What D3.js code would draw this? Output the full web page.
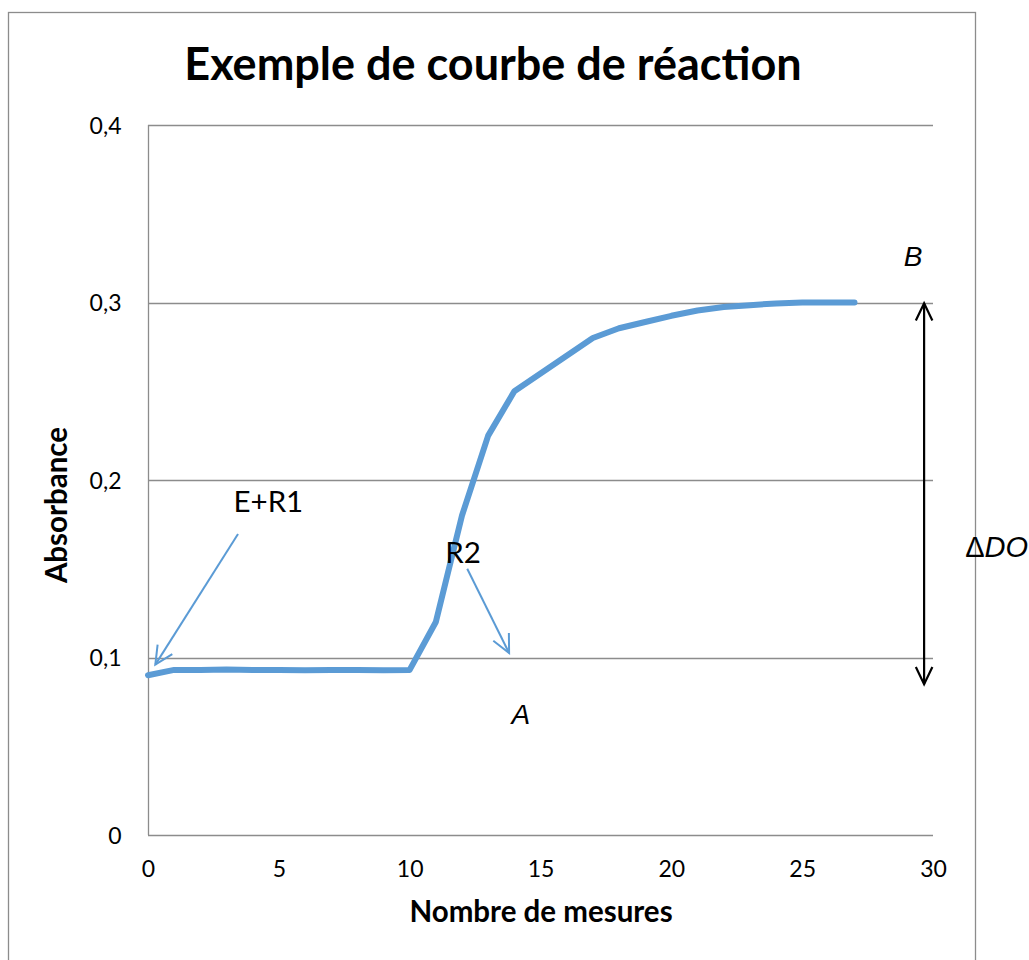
<!DOCTYPE html>
<html><head><meta charset="utf-8">
<script src="https://cdn.jsdelivr.net/npm/d3@7"></script>
<style>body{margin:0;background:#fff}svg{display:block}</style>
</head><body>
<svg id="c" width="1029" height="960"></svg>
<script>
const xValues = [0,1,2,3,4,5,6,7,8,9,10,11,12,13,14,15,16,17,18,19,20,21,22,23,24,25,26,27];
const absorbance = [0.090,0.093,0.093,0.0932,0.093,0.093,0.0928,0.093,0.093,0.0928,0.093,0.120,0.180,0.225,0.250,0.260,0.270,0.280,0.2855,0.289,0.2925,0.2955,0.2975,0.2985,0.2995,0.300,0.300,0.300];
const xTicks = [0,5,10,15,20,25,30];
const yTicks = [0,0.1,0.2,0.3,0.4];
const title = "Exemple de courbe de réaction";
const xTitle = "Nombre de mesures";
const yTitle = "Absorbance";
// annotations in data units
const annotations = [
  {text:"E+R1", x:4.6, y:0.182, from:[3.44,0.1696], to:[0.28,0.096]},
  {text:"R2", x:12.04, y:0.153, from:[12.2,0.150], to:[13.8,0.1025]}
];
const italicLabels = [{text:"B", x:29.24, y:0.3206},{text:"A", x:14.25, y:0.0625}];
const deltaArrow = {x:29.66, y1:0.2995, y2:0.085};

const svg = d3.select("#c");
const font = "Lato, 'Open Sans', sans-serif";
const m = {left:148, right:933, top:125, bottom:835};
const x = d3.scaleLinear().domain([0,30]).range([m.left, m.right]);
const y = d3.scaleLinear().domain([0,0.4]).range([m.bottom, m.top]);

// outer frame
svg.append("rect").attr("x",8.5).attr("y",12.5).attr("width",967).attr("height",960)
  .attr("fill","none").attr("stroke","#8c8c8c").attr("stroke-width",1.3);

// gridlines
svg.append("g").selectAll("line").data(yTicks.filter(d=>d>0)).join("line")
  .attr("x1",m.left).attr("x2",m.right).attr("y1",d=>Math.round(y(d))+0.5).attr("y2",d=>Math.round(y(d))+0.5)
  .attr("stroke","#8c8c8c").attr("stroke-width",1.3);

// axes
const fmt = d => d===0 ? "0" : String(d).replace(".", ",");
const yAxis = svg.append("g").attr("transform",`translate(${m.left+0.5},0)`)
  .call(d3.axisLeft(y).tickValues(yTicks).tickSize(0).tickPadding(27).tickFormat(fmt));
const xAxis = svg.append("g").attr("transform",`translate(0,${m.bottom+0.5})`)
  .call(d3.axisBottom(x).tickValues(xTicks).tickSize(0).tickPadding(25).tickFormat(d=>d));
[yAxis,xAxis].forEach(a=>{
  a.select(".domain").attr("stroke","#8c8c8c").attr("stroke-width",1.3);
  a.selectAll("text").attr("font-family",font).attr("font-size",23).attr("fill","#000");
});
xAxis.select(".domain").attr("d",`M${m.left},0H${m.right}`);
yAxis.select(".domain").attr("d",`M0,${m.top}V${m.bottom}`);
yAxis.selectAll("text").attr("dy","0.35em");

// line
svg.append("path").datum(xValues.map((d,i)=>[d,absorbance[i]]))
  .attr("d", d3.line().x(d=>x(d[0])).y(d=>y(d[1])))
  .attr("fill","none").attr("stroke","#5B9BD5").attr("stroke-width",6)
  .attr("stroke-linejoin","round").attr("stroke-linecap","round");

// titles
svg.append("text").attr("x",493).attr("y",80).attr("text-anchor","middle")
  .attr("font-family",font).attr("font-weight","bold").attr("font-size",45).text(title);
svg.append("text").attr("x",541).attr("y",922).attr("text-anchor","middle")
  .attr("font-family",font).attr("font-weight","bold").attr("font-size",29.5).text(xTitle);
svg.append("text").attr("transform","translate(67,505) rotate(-90)").attr("text-anchor","middle")
  .attr("font-family",font).attr("font-weight","bold").attr("font-size",29.5).text(yTitle);

// arrow helper
function arrow(p0,p1,color,w,head,both){
  const g = svg.append("g").attr("stroke",color).attr("stroke-width",w).attr("fill","none");
  g.append("line").attr("x1",p0[0]).attr("y1",p0[1]).attr("x2",p1[0]).attr("y2",p1[1]);
  const drawHead=(a,b)=>{
    const ang=Math.atan2(b[1]-a[1],b[0]-a[0]);
    const s=0.45;
    const l=[b[0]-head*Math.cos(ang-s), b[1]-head*Math.sin(ang-s)];
    const r=[b[0]-head*Math.cos(ang+s), b[1]-head*Math.sin(ang+s)];
    g.append("path").attr("d",`M${l[0]},${l[1]}L${b[0]},${b[1]}L${r[0]},${r[1]}`);
  };
  drawHead(p0,p1);
  if(both) drawHead(p1,p0);
}
annotations.forEach(a=>{
  svg.append("text").attr("x",x(a.x)).attr("y",y(a.y)).attr("text-anchor","middle")
    .attr("font-family",font).attr("font-size",29.5).text(a.text);
  arrow([x(a.from[0]),y(a.from[1])],[x(a.to[0]),y(a.to[1])],"#5B9BD5",2,20,false);
});
arrow([x(deltaArrow.x),y(deltaArrow.y1)],[x(deltaArrow.x),y(deltaArrow.y2)],"#000",2.2,19,true);

italicLabels.forEach(l=>{
  svg.append("text").attr("x",x(l.x)).attr("y",y(l.y)).attr("text-anchor","middle")
    .attr("font-family","'Liberation Sans', Arial, sans-serif").attr("font-style","italic").attr("font-size",28).text(l.text);
});
const d = svg.append("text").attr("x",1028).attr("y",557).attr("text-anchor","end")
  .attr("font-family","'Liberation Sans', Arial, sans-serif").attr("font-size",29);
d.append("tspan").text("Δ");
d.append("tspan").attr("font-style","italic").text("DO");
</script>
</body></html>
